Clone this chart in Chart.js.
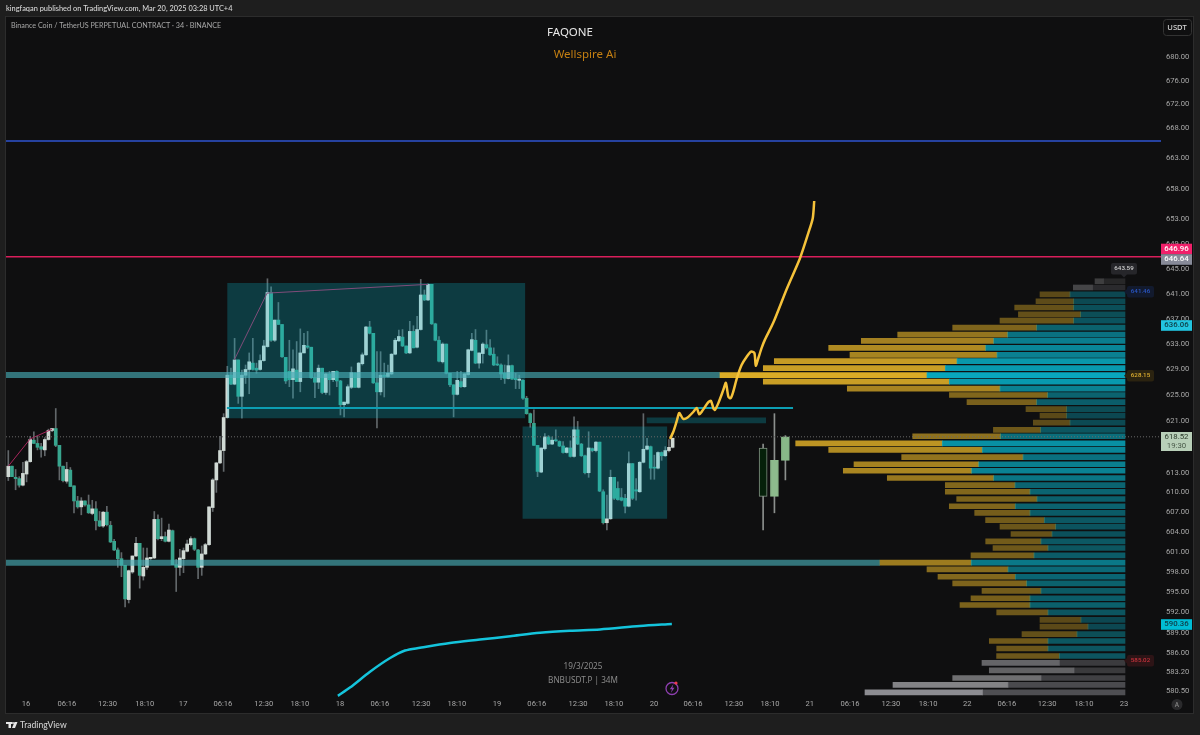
<!DOCTYPE html>
<html>
<head>
    <script src="https://cdn.jsdelivr.net/npm/chart.js@4/dist/chart.umd.min.js"></script>
    <style>
        html, body { margin: 0; padding: 0; background: #1e1e1e; }
        canvas { display: block; }
    </style>
</head>
<body>
    <canvas id="bnbChart" width="1200" height="735"></canvas>

    <script>
        // 34m candles, price
        const opens = [
            612.4,614.0,612.3,612.1,611.1,612.8,614.7,618.0,617.5,617.0,
            616.5,618.1,619.5,619.8,617.2,614.0,611.7,613.4,611.0,608.7,
            607.8,608.7,608.1,606.8,607.5,605.7,604.9,607.0,605.0,602.6,
            601.3,600.0,599.0,593.9,598.0,600.4,602.3,597.4,598.7,600.0,
            600.1,605.9,603.0,603.3,602.6,604.2,599.1,598.7,600.0,601.1,
            602.1,603.0,601.3,598.7,600.7,602.1,607.7,611.9,614.5,616.4,
            621.5,628.1,626.7,630.5,624.8,628.1,629.0,630.0,629.2,629.0,
            630.4,632.6,641.2,633.6,636.8,636.1,630.9,628.7,627.4,628.9,
            627.1,631.6,632.7,632.5,627.7,627.0,629.2,625.4,628.3,627.4,
            628.7,627.2,623.5,623.7,626.2,628.4,626.2,629.9,631.3,635.7,
            634.7,626.9,625.5,628.1,627.9,628.3,631.4,633.5,634.1,632.7,
            631.6,635.0,632.5,635.3,640.8,640.0,642.5,636.2,633.6,630.2,
            633.0,628.4,626.6,625.1,627.1,626.3,628.2,632.0,633.6,630.0,
            631.5,632.9,632.4,631.4,629.8,629.7,628.4,627.6,629.6,627.6,
            627.3,627.3,624.5,622.1,620.6,617.2,613.1,616.7,618.5,617.4,
            618.0,617.8,617.1,616.1,616.8,615.5,619.6,617.4,615.6,613.0,
            616.7,616.4,617.7,610.1,605.4,606.0,612.3,610.6,609.2,609.1,
            607.9,614.4,610.4,610.1,614.6,616.6,617.0,613.8,613.7,616.1,
            615.6,616.4,616.9
        ];
        const highs = [
            616.4,614.0,613.5,612.4,614.6,614.9,618.6,619.3,618.6,617.5,
            618.4,619.7,619.8,622.9,617.2,614.0,614.6,613.8,611.0,609.4,
            609.2,608.7,609.6,608.8,608.6,607.1,607.1,607.9,605.6,602.9,
            601.6,600.9,599.0,598.3,600.4,603.2,602.3,601.6,601.6,600.2,
            607.1,606.6,606.1,604.0,605.2,604.3,599.9,601.4,601.6,602.8,
            603.3,603.1,601.4,601.9,602.3,607.8,612.1,614.6,618.6,622.1,
            629.5,629.2,633.9,630.5,628.9,629.7,631.6,633.9,630.0,631.3,
            633.6,643.4,642.1,636.8,639.6,636.1,630.9,633.6,632.1,633.4,
            635.4,634.7,635.0,632.5,628.4,629.7,629.2,628.4,628.7,628.7,
            628.8,627.3,623.9,626.6,629.4,628.5,630.1,631.6,635.8,636.6,
            634.7,631.8,631.8,630.0,629.7,631.5,633.9,635.2,635.3,632.7,
            636.6,635.9,637.4,643.3,641.6,642.6,642.5,636.3,634.2,633.2,
            633.0,628.4,626.6,628.7,628.7,628.4,632.2,634.7,635.3,631.6,
            633.2,635.2,633.7,632.4,631.0,629.9,629.7,631.3,629.7,628.4,
            628.1,627.4,624.8,622.2,622.7,617.2,616.8,619.0,618.7,618.5,
            619.6,617.9,617.8,616.9,617.9,621.6,620.9,617.5,615.7,619.3,
            616.8,617.8,617.7,610.4,609.6,613.4,612.3,611.6,610.6,609.7,
            616.2,614.4,612.1,614.7,622.1,618.3,617.1,615.7,616.2,616.2,
            617.0,618.1,618.3
        ];
        const lows = [
            611.8,612.4,610.4,610.8,611.0,611.6,614.6,617.5,616.5,615.4,
            615.6,618.0,619.3,617.0,611.9,611.6,611.4,610.9,606.9,607.6,
            606.6,607.9,606.8,606.6,604.3,604.8,604.7,604.9,602.4,601.2,
            598.7,597.3,592.8,593.4,597.8,600.3,595.6,596.8,598.4,599.8,
            600.0,602.8,602.7,602.5,602.5,599.1,595.1,597.5,597.9,601.0,
            601.9,601.2,597.0,597.5,600.6,602.0,607.1,610.0,614.4,613.2,
            621.4,626.6,626.6,623.7,621.4,626.8,625.2,628.9,628.4,628.9,
            630.3,632.5,633.4,633.4,636.1,630.9,626.8,626.3,624.5,627.1,
            625.5,631.6,632.3,627.6,624.6,626.0,625.2,625.1,625.0,627.1,
            626.3,621.9,621.6,623.6,626.0,626.2,626.1,629.7,631.2,634.6,
            626.8,619.9,625.0,624.7,627.8,628.2,631.3,633.4,632.6,631.5,
            631.5,632.4,632.4,635.2,639.9,639.9,636.1,633.5,630.2,630.0,
            628.3,626.3,621.6,625.0,626.2,626.2,628.1,631.9,629.9,629.2,
            630.0,632.2,631.2,629.6,629.6,627.4,626.8,627.5,627.4,626.0,
            626.0,624.3,622.0,620.0,617.2,612.4,613.0,616.5,617.3,617.3,
            617.8,617.0,616.0,616.0,615.4,615.4,617.3,615.5,612.8,612.3,
            616.2,616.2,610.1,605.2,604.3,605.9,608.9,608.8,608.7,606.9,
            607.8,608.9,608.8,610.0,614.5,616.5,612.0,612.0,613.6,614.9,
            615.5,616.2,616.8
        ];
        const closes = [
            614.0,612.4,612.1,611.1,612.9,614.7,618.1,617.5,616.9,616.6,
            618.1,619.5,619.8,617.2,614.0,611.8,613.5,610.9,608.7,607.8,
            608.7,608.1,606.9,607.5,605.7,604.9,607.0,605.1,602.5,601.3,
            600.0,599.0,594.0,598.2,600.4,602.3,597.5,598.7,600.1,600.2,
            605.9,603.0,603.3,602.6,604.3,599.1,598.7,600.1,601.2,602.2,
            603.0,601.4,598.7,600.7,602.1,607.8,611.9,614.5,616.4,621.5,
            628.1,626.7,630.5,624.8,628.1,629.0,630.2,629.0,628.9,630.4,
            632.7,641.2,633.6,636.8,636.1,631.0,627.2,627.4,629.1,627.1,
            631.6,632.8,632.5,627.7,627.0,629.2,625.4,628.3,627.4,628.7,
            627.2,623.5,623.9,626.3,628.5,626.2,630.0,631.3,635.7,634.7,
            626.9,625.5,628.1,627.9,628.4,631.4,633.6,634.2,632.7,631.6,
            635.0,632.4,635.3,640.8,640.0,642.5,636.2,633.6,630.3,633.0,
            628.4,626.6,625.1,627.3,626.3,628.3,632.1,633.7,630.0,631.6,
            633.0,632.4,631.3,629.7,629.7,628.3,627.6,629.6,627.5,627.4,
            627.5,624.5,622.1,620.7,617.2,613.2,616.8,618.5,617.4,618.0,
            617.9,617.1,616.1,616.8,615.5,619.6,617.4,615.6,613.0,616.8,
            616.4,617.7,610.2,605.4,606.0,612.3,609.1,608.9,608.8,607.9,
            614.4,609.1,610.2,614.6,616.6,617.1,613.7,613.7,616.1,615.6,
            616.4,616.9,618.3
        ];

        // bars pattern drawn to the right of the live candles
        const patternBars = [206.8, 209.9, 212.9];
        const patternOpens = [609.4, 609.4, 614.9];
        const patternHighs = [617.4, 622.1, 618.7];
        const patternLows = [604.3, 606.9, 611.9];
        const patternCloses = [616.8, 614.9, 618.5];

        // volume profile rows
        const profilePrices = [
            643.0,642.0,640.9,639.8,638.8,637.7,636.7,635.6,634.5,633.5,
            632.4,631.3,630.3,629.2,628.1,627.1,626.0,625.0,623.9,622.8,
            621.8,620.7,619.6,618.6,617.5,616.5,615.4,614.3,613.3,612.2,
            611.1,610.1,609.0,607.9,606.9,605.8,604.8,603.7,602.6,601.6,
            600.5,599.4,598.4,597.3,596.3,595.2,594.1,593.1,592.0,590.9,
            589.9,588.8,587.8,586.7,585.6,584.6,583.5,582.4,581.4,580.3
        ];
        const profileTeal = [
            21.7,32.7,55,51.3,51.3,44.3,51.3,88.3,117.3,131.3,
            139.3,128,168,179.7,198,175.7,125,77.3,88.3,58.3,
            58.3,55,84.3,124.3,182.7,142.7,102,146.3,153.3,131.3,
            110,95,88,109.7,95,80.7,69.3,73,84,77,
            91,153.7,117,109.7,98.3,84,95,95,77,44,
            37,48,77,77,65.7,65.7,51,84,117,142.3
        ];
        const profileGold = [
            8.3,19,30,37.7,59,62.3,73.7,84,110,132.4,
            157,147,182.7,182,207,186,152.7,98.3,69.7,40.7,
            26.7,36.7,47.3,88,146.6,153.6,121.3,124.7,128.4,106.4,
            69.7,84.7,80.3,66,55.3,58.7,55.7,41,55.3,55,
            63,91.3,81,77.3,74,59,59,70,51.3,41,
            48,55,58.7,51.3,62.7,77.3,84.7,88.3,115,117.7
        ];

        // drawings
        const yellowBars = [181.3,182.2,183.1,183.8,184.2,184.9,186.1,187.7,188.6,189.3,190.1,191.8,192.5,193.2,193.6,194.5,195.9,196.6,197.3,197.9,198.6,199.6,200.9,202.3,203.5,204.4,204.8,205.5,206.4,207.3,209.6,213.3,216.9,219.2,220.4,220.8];
        const yellowPrices = [618.2,619.3,620.9,622.2,621.9,621.3,621.5,622.4,623.0,622.0,622.5,623.9,624.1,622.9,622.7,623.7,625.8,626.9,624.7,624.5,625.5,627.6,629.7,631.0,631.8,631.6,629.6,630.8,632.4,633.7,636.4,641.8,646.7,650.8,653.2,656.0];
        const vwapBars = [90.3,93.6,99.1,104.6,108.7,112.8,121,129.2,137.5,145.7,153.9,162.1,173,181.8];
        const vwapPrices = [579.8,581.0,583.3,585.3,586.4,586.8,587.5,588.0,588.5,589.0,589.3,589.5,590.0,590.3];
        const pinkBars1 = [0, 6, 12];
        const pinkPrices1 = [614.0, 618.2, 619.7];
        const pinkBars2 = [61.9, 70.9, 115];
        const pinkPrices2 = [630.5, 641.1, 642.5];

        const bluePrice = 665.9;
        const redPrice = 646.96;
        const lastPrice = 618.52;
        const shelfPrice = 623.0;
        const upperBandPrice = 628.15;
        const lowerBandPrice = 599.4;

        // [barFrom, barTo, priceLow, priceHigh]
        const upperBox = [60, 141.6, 621.4, 642.7];
        const lowerBox = [140.9, 180.5, 606.0, 620.1];
        const thinBox = [174.9, 207.6, 620.6, 621.5];

        const yTickValues = [680,676,672,668,663,658,653,649,645,641,637,633,629,625,621,617,613,610,607,604,601,598,595,592,589,586,583.2,580.5];
        const xTickBars = [4.85,16.05,27.2,37.4,47.9,58.8,70,79.9,90.9,101.8,113.1,122.9,133.9,144.8,156.1,165.9,176.9,187.6,198.8,208.7,219.6,230.6,241.8,252,262.7,273.6,284.6,294.7,305.7];
        const xTickLabels = ['16','06:16','12:30','18:10','17','06:16','12:30','18:10','18','06:16','12:30','18:10','19','06:16','12:30','18:10','20','06:16','12:30','18:10','21','06:16','12:30','18:10','22','06:16','12:30','18:10','23'];

        const FONT = '"Noto Sans", sans-serif';
        const HEAD_FONT = 'Lato, "Noto Sans", sans-serif';
        const AXIS_FONT = 'Roboto, "Noto Sans", sans-serif';
        const BAR_MIN = -0.63, BAR_MAX = 315.81;
        const PANE_BG = '#0f0f10';

        function pts(xs, ys) {
            return xs.map((x, i) => ({ x: x, y: ys[i] }));
        }

        function lineSet(data, color, width, order, extra) {
            return Object.assign({
                type: 'line', data: data, borderColor: color, borderWidth: width,
                pointRadius: 0, fill: false, tension: 0, order: order
            }, extra || {});
        }

        function hLine(price, from, to, color, width, order, extra) {
            return lineSet([{ x: from, y: price }, { x: to, y: price }], color, width, order, extra);
        }

        function boxSet(b, order) {
            const corners = [
                { x: b[0], y: b[2] }, { x: b[0], y: b[3] },
                { x: b[1], y: b[3] }, { x: b[1], y: b[2] }, { x: b[0], y: b[2] }
            ];
            return lineSet(corners, 'rgba(0,0,0,0)', 0, order, {
                fill: 'shape', backgroundColor: 'rgba(6,191,212,0.25)'
            });
        }

        function rowAlpha(i) {
            return 0.2 + 0.75 * (profileTeal[i] + profileGold[i]) / 405;
        }
        function isGreyRow(i) {
            return profilePrices[i] < 585.5 || profilePrices[i] > 641.5;
        }

        const barDefaults = { type: 'bar', grouped: false, borderWidth: 0 };

        const datasets = [
            // candles
            Object.assign({}, barDefaults, {
                data: highs.map((h, i) => ({ x: i, y: [lows[i], h] })),
                barThickness: 1, backgroundColor: '#62676a', order: 100
            }),
            Object.assign({}, barDefaults, {
                data: opens.map((o, i) => ({ x: i, y: [o, closes[i]] })),
                barThickness: 3, minBarLength: 1,
                backgroundColor: (c) => closes[c.dataIndex] >= opens[c.dataIndex] ? '#d0d9d4' : '#38a58e',
                order: 99
            }),
            // pattern candles
            Object.assign({}, barDefaults, {
                data: patternBars.map((x, i) => ({ x: x, y: [patternLows[i], patternHighs[i]] })),
                barThickness: 1, backgroundColor: '#8b8f8d', order: 91
            }),
            Object.assign({}, barDefaults, {
                data: patternBars.map((x, i) => ({ x: x, y: [patternOpens[i], patternCloses[i]] })),
                barThickness: 8, borderWidth: 1, borderSkipped: false,
                backgroundColor: ['#05200a', '#8dbb8d', '#88b888'],
                borderColor: ['#7f8f80', '#8dbb8d', '#88b888'],
                order: 90
            }),
            lineSet(pts(pinkBars1, pinkPrices1), '#a8265c', 1, 95),
            lineSet(pts(pinkBars2, pinkPrices2), '#a8265c', 1, 95),
            boxSet(upperBox, 80),
            boxSet(lowerBox, 80),
            boxSet(thinBox, 80),
            hLine(upperBandPrice, BAR_MIN, 195, 'rgba(70,170,180,0.65)', 6, 70),
            hLine(lowerBandPrice, BAR_MIN, 238.8, 'rgba(70,170,180,0.65)', 6, 70),
            hLine(shelfPrice, 59.9, 215, '#0c9eb3', 2, 60),
            hLine(bluePrice, BAR_MIN, BAR_MAX, '#2f55d0', 1.5, 60),
            hLine(redPrice, BAR_MIN, BAR_MAX, '#d81e5b', 1.5, 60),
            lineSet(pts(vwapBars, vwapPrices), '#14c4dc', 2.5, 60, { tension: 0.3 }),
            // volume profile
            Object.assign({}, barDefaults, {
                indexAxis: 'y', xAxisID: 'xVol', barThickness: 5,
                data: profilePrices.map((p, i) => ({ y: p, x: [0, profileTeal[i]] })),
                backgroundColor: (c) => {
                    const i = c.dataIndex, a = rowAlpha(i);
                    return isGreyRow(i) ? 'rgba(110,110,115,' + a + ')' : 'rgba(8,175,198,' + a + ')';
                },
                order: 50
            }),
            Object.assign({}, barDefaults, {
                indexAxis: 'y', xAxisID: 'xVol', barThickness: 5,
                data: profilePrices.map((p, i) => ({ y: p, x: [profileTeal[i], profileTeal[i] + profileGold[i]] })),
                backgroundColor: (c) => {
                    const i = c.dataIndex, a = rowAlpha(i);
                    return isGreyRow(i) ? 'rgba(200,200,205,' + a + ')' : 'rgba(230,180,40,' + a + ')';
                },
                order: 50
            }),
            hLine(lastPrice, BAR_MIN, BAR_MAX, '#6a6a6a', 1, 40, { borderDash: [1, 2] }),
            lineSet(pts(yellowBars, yellowPrices), '#f5c23a', 2.5, 10, { tension: 0.25 })
        ];

        // price tags on the scale
        const scaleTags = [
            { text: '646.96', y: 249, bg: '#f0206a', fg: '#ffffff' },
            { text: '646.64', y: 259.5, bg: '#878a98', fg: '#ffffff' },
            { text: '636.06', y: 325.5, bg: '#22c5e0', fg: '#0f3b44' },
            { text: '590.36', y: 624.5, bg: '#00bcd4', fg: '#0f3b44' }
        ];
        const smallTags = [
            { text: '641.46', x: 1127, y: 286, bg: '#121a2e', fg: '#2a56c6' },
            { text: '628.15', x: 1127, y: 370, bg: '#2b2310', fg: '#e0b030' },
            { text: '585.02', x: 1127, y: 655, bg: '#2d1416', fg: '#c8323c' }
        ];

        const chromePlugin = {
            id: 'chrome',
            beforeDraw(chart) {
                const c = chart.ctx;
                c.save();
                c.fillStyle = '#1e1e1e';
                c.fillRect(0, 0, 1200, 735);
                c.fillStyle = PANE_BG;
                c.strokeStyle = '#2c2c2c';
                c.fillRect(6, 17, 1187, 696);
                c.strokeRect(5.5, 16.5, 1188, 697);
                c.restore();
            },
            afterDraw(chart) {
                const c = chart.ctx;
                const text = (s, x, y, font, color, align, family) => {
                    c.font = font + ' ' + (family || FONT);
                    c.fillStyle = color;
                    c.textAlign = align || 'left';
                    c.textBaseline = 'middle';
                    c.fillText(s, x, y);
                };
                c.save();
                text('kingfaqan published on TradingView.com, Mar 20, 2025 03:28 UTC+4', 6, 9, '500 7.4px', '#d8d8d8', 'left', HEAD_FONT);
                text('Binance Coin / TetherUS PERPETUAL CONTRACT · 34 · BINANCE', 11, 25.5, '7.2px', '#a8a8a8', 'left', HEAD_FONT);
                text('FAQONE', 570, 33, '11.5px', '#e8e8e8', 'center');
                text('Wellspire Ai', 585, 55, '11.5px', '#c47f12', 'center');
                text('19/3/2025', 583, 667, '8.2px', '#8a8a8a', 'center');
                text('BNBUSDT.P | 34M', 583, 681, '8.2px', '#8a8a8a', 'center');

                // USDT button
                c.strokeStyle = '#333';
                c.beginPath();
                c.roundRect(1163.5, 19.5, 28, 16, 3);
                c.stroke();
                text('USDT', 1177, 28, '500 7.6px', '#d8d8d8', 'center');

                scaleTags.forEach(t => {
                    c.fillStyle = t.bg;
                    c.fillRect(1161, t.y - 5.3, 31, 10.6);
                    text(t.text, 1176.5, t.y, '500 7.8px', t.fg, 'center', AXIS_FONT);
                });
                c.fillStyle = '#b8cfb8';
                c.fillRect(1161, 432, 31, 19);
                text('618.52', 1176.5, 437, '7.8px', '#2a3a2a', 'center', AXIS_FONT);
                text('19:30', 1176.5, 446, '7.8px', '#4a5a4a', 'center', AXIS_FONT);

                // small tags next to the profile
                smallTags.forEach(t => {
                    c.fillStyle = t.bg;
                    c.beginPath();
                    c.roundRect(t.x, t.y, 27, 11.5, 2);
                    c.moveTo(t.x, t.y + 3);
                    c.lineTo(t.x - 3, t.y + 5.7);
                    c.lineTo(t.x, t.y + 8.5);
                    c.fill();
                    text(t.text, t.x + 13.5, t.y + 5.8, '500 6.2px', t.fg, 'center', AXIS_FONT);
                });
                c.fillStyle = '#26262a';
                c.beginPath();
                c.roundRect(1111, 263, 26, 11.5, 2);
                c.moveTo(1121, 274.5);
                c.lineTo(1124, 277.5);
                c.lineTo(1127, 274.5);
                c.fill();
                text('643.59', 1124, 268.8, '500 6.2px', '#d0d0d0', 'center', AXIS_FONT);

                // A button
                c.fillStyle = '#2a2a2c';
                c.beginPath();
                c.arc(1177, 704.5, 5.5, 0, Math.PI * 2);
                c.fill();
                text('A', 1177, 704.8, '500 6.5px', '#888', 'center');

                // flash icon
                c.strokeStyle = '#8e3fb0';
                c.lineWidth = 1.3;
                c.beginPath();
                c.arc(672, 688.5, 6, 0, Math.PI * 2);
                c.stroke();
                c.fillStyle = '#8e3fb0';
                c.beginPath();
                c.moveTo(673.5, 684);
                c.lineTo(669.8, 689.3);
                c.lineTo(672, 689.3);
                c.lineTo(670.8, 693);
                c.lineTo(674.5, 687.8);
                c.lineTo(672.3, 687.8);
                c.closePath();
                c.fill();
                c.fillStyle = '#f03a4a';
                c.beginPath();
                c.arc(676, 683, 1.6, 0, Math.PI * 2);
                c.fill();

                // TradingView logo
                c.fillStyle = '#e6e6e6';
                c.fillRect(6, 722, 6, 2);
                c.fillRect(8.5, 722, 2.5, 6);
                c.beginPath();
                c.arc(13, 723, 1, 0, Math.PI * 2);
                c.fill();
                c.beginPath();
                c.moveTo(14.5, 722);
                c.lineTo(17.5, 722);
                c.lineTo(15, 728);
                c.lineTo(12, 728);
                c.closePath();
                c.fill();
                text('TradingView', 20, 725, '500 8.6px', '#d0d0d0', 'left', HEAD_FONT);
                c.restore();
            }
        };

        new Chart(document.getElementById('bnbChart').getContext('2d'), {
            type: 'bar',
            data: { datasets: datasets },
            plugins: [chromePlugin],
            options: {
                responsive: false,
                animation: false,
                events: [],
                layout: { padding: { left: 6, right: 7, top: 18, bottom: 22 } },
                plugins: { legend: { display: false }, tooltip: { enabled: false }, title: { display: false } },
                scales: {
                    x: {
                        type: 'linear', offset: false, min: BAR_MIN, max: BAR_MAX,
                        grid: { display: false, drawTicks: false }, border: { display: false },
                        afterBuildTicks: (axis) => { axis.ticks = xTickBars.map(v => ({ value: v })); },
                        afterFit: (axis) => { axis.height = 16; },
                        ticks: {
                            autoSkip: false, maxRotation: 0, padding: 3, color: '#a8a8a8',
                            font: { family: AXIS_FONT, size: 7.6 },
                            callback: function (v, i) { return xTickLabels[i]; }
                        }
                    },
                    xVol: {
                        type: 'linear', axis: 'x', offset: false, display: false, reverse: true,
                        min: -36, max: 1119, beginAtZero: false
                    },
                    y: {
                        type: 'logarithmic', position: 'right', offset: false, bounds: 'data',
                        beginAtZero: false, min: 579.64, max: 686.65,
                        grid: { display: false, drawTicks: false }, border: { display: false },
                        afterBuildTicks: (axis) => { axis.ticks = yTickValues.map(v => ({ value: v })); },
                        afterFit: (axis) => { axis.width = 32; },
                        ticks: {
                            autoSkip: false, padding: 5, color: '#a8a8a8',
                            major: { enabled: false },
                            font: { family: AXIS_FONT, size: 7.6 },
                            callback: (v) => Number(v).toFixed(2)
                        }
                    }
                }
            }
        });
    </script>
</body>
</html>
